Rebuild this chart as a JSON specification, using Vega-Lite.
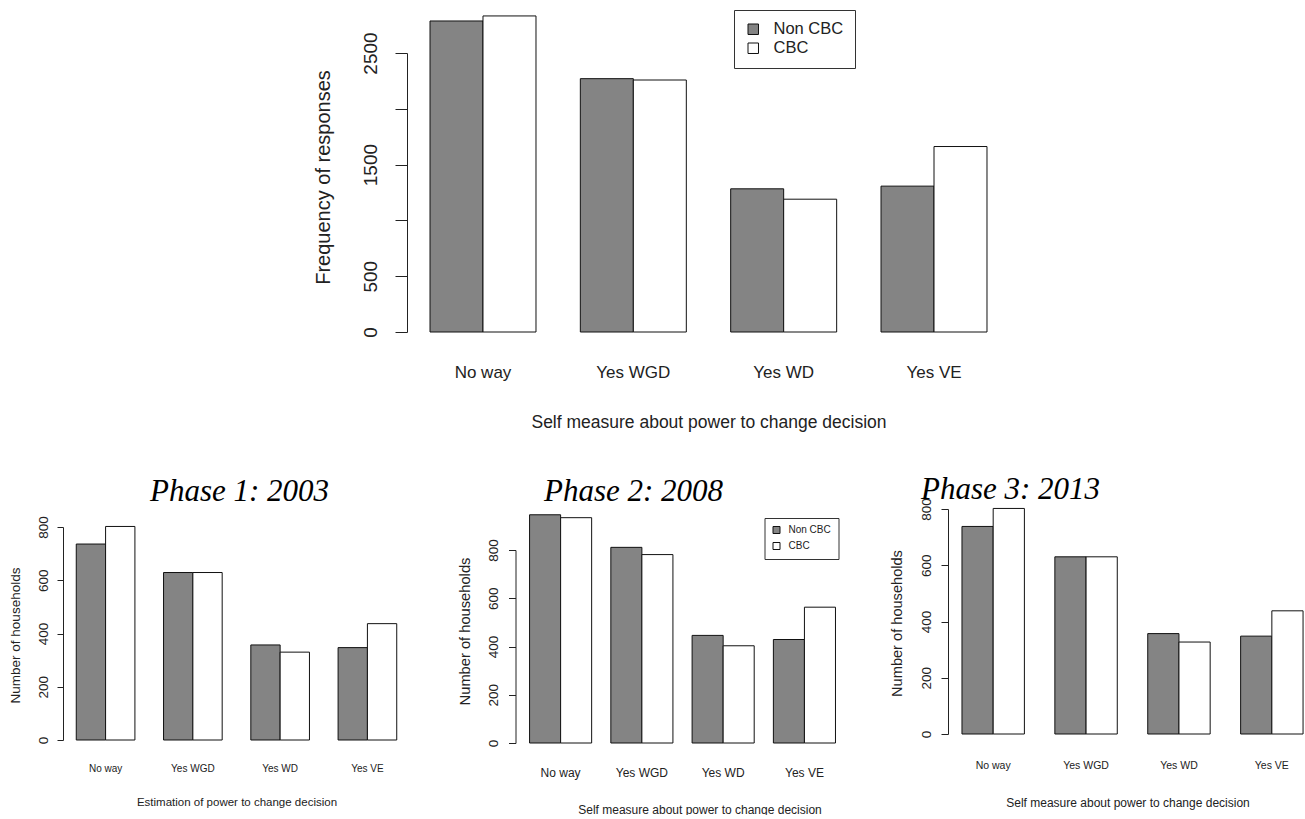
{
  "$schema": "https://vega.github.io/schema/vega-lite/v6.json",
  "background": "white",
  "padding": {"left": 8, "top": 9, "right": 0, "bottom": 0},
  "config": {
    "view": {"stroke": null},
    "font": "Liberation Sans",
    "axis": {
      "grid": false,
      "labelColor": "#222",
      "titleColor": "#222",
      "domainColor": "#222",
      "tickColor": "#222",
      "titleFontWeight": "normal",
      "labelFont": "Liberation Sans",
      "titleFont": "Liberation Sans",
      "domainWidth": 1,
      "tickWidth": 1
    },
    "legend": {"labelColor": "#222", "labelFont": "Liberation Sans"},
    "bar": {"stroke": "#111", "strokeWidth": 1}
  },
  "datasets": {
    "overall": [
      {"category": "No way", "group": "Non CBC", "value": 2787},
      {"category": "No way", "group": "CBC", "value": 2832},
      {"category": "Yes WGD", "group": "Non CBC", "value": 2270},
      {"category": "Yes WGD", "group": "CBC", "value": 2258},
      {"category": "Yes WD", "group": "Non CBC", "value": 1283},
      {"category": "Yes WD", "group": "CBC", "value": 1190},
      {"category": "Yes VE", "group": "Non CBC", "value": 1307},
      {"category": "Yes VE", "group": "CBC", "value": 1662}
    ],
    "phase1": [
      {"category": "No way", "group": "Non CBC", "value": 736},
      {"category": "No way", "group": "CBC", "value": 802},
      {"category": "Yes WGD", "group": "Non CBC", "value": 629},
      {"category": "Yes WGD", "group": "CBC", "value": 629},
      {"category": "Yes WD", "group": "Non CBC", "value": 357},
      {"category": "Yes WD", "group": "CBC", "value": 330},
      {"category": "Yes VE", "group": "Non CBC", "value": 347},
      {"category": "Yes VE", "group": "CBC", "value": 437}
    ],
    "phase2": [
      {"category": "No way", "group": "Non CBC", "value": 946},
      {"category": "No way", "group": "CBC", "value": 934},
      {"category": "Yes WGD", "group": "Non CBC", "value": 811},
      {"category": "Yes WGD", "group": "CBC", "value": 781},
      {"category": "Yes WD", "group": "Non CBC", "value": 446},
      {"category": "Yes WD", "group": "CBC", "value": 403},
      {"category": "Yes VE", "group": "Non CBC", "value": 429},
      {"category": "Yes VE", "group": "CBC", "value": 563}
    ],
    "phase3": [
      {"category": "No way", "group": "Non CBC", "value": 738},
      {"category": "No way", "group": "CBC", "value": 802},
      {"category": "Yes WGD", "group": "Non CBC", "value": 630},
      {"category": "Yes WGD", "group": "CBC", "value": 630},
      {"category": "Yes WD", "group": "Non CBC", "value": 357},
      {"category": "Yes WD", "group": "CBC", "value": 327},
      {"category": "Yes VE", "group": "Non CBC", "value": 348},
      {"category": "Yes VE", "group": "CBC", "value": 438}
    ]
  },
  "spacing": 42,
  "resolve": {
    "scale": {"x": "independent", "y": "independent", "xOffset": "independent", "fill": "independent"},
    "legend": {"fill": "independent"}
  },
  "vconcat": [
    {
      "spacing": 0,
      "resolve": {
        "scale": {"x": "independent", "y": "independent", "xOffset": "independent", "fill": "independent"},
        "legend": {"fill": "independent"}
      },
      "hconcat": [
        {
          "width": 249,
          "height": 279,
          "data": {"values": []},
          "mark": {"type": "point"}
        },
        {
          "width": 603,
          "height": 279,
          "data": {"name": "overall"},
          "mark": {"type": "bar"},
          "encoding": {
            "x": {
              "field": "category", "type": "nominal",
              "sort": ["No way", "Yes WGD", "Yes WD", "Yes VE"],
              "scale": {"paddingInner": 0.295, "paddingOuter": 0.153},
              "axis": {
                "title": "Self measure about power to change decision",
                "labelAngle": 0, "domain": false, "ticks": false,
                "labelPadding": 32, "labelFontSize": 17,
                "titleFontSize": 17.5, "titlePadding": 33
              }
            },
            "xOffset": {
              "field": "group", "type": "nominal",
              "sort": ["Non CBC", "CBC"],
              "scale": {"paddingInner": 0, "paddingOuter": 0}
            },
            "y": {
              "field": "value", "type": "quantitative",
              "scale": {"domain": [0, 2500], "nice": false},
              "axis": {
                "title": "Frequency of responses",
                "values": [0, 500, 1000, 1500, 2000, 2500],
                "format": "d",
                "labelExpr": "datum.value == 1000 || datum.value == 2000 ? '' : datum.label",
                "labelAngle": -90, "labelAlign": "center", "labelBaseline": "bottom",
                "labelFontSize": 19, "tickSize": 12, "labelPadding": 14.5,
                "titleFontSize": 20, "titleY": 124, "titlePadding": 28.5
              }
            },
            "fill": {
              "field": "group", "type": "nominal",
              "sort": ["Non CBC", "CBC"],
              "scale": {"domain": ["Non CBC", "CBC"], "range": ["#848484", "#ffffff"]},
              "legend": {
                "title": null, "orient": "none", "legendX": 327, "legendY": -43,
                "strokeColor": "#333", "padding": 11, "symbolType": "square",
                "symbolSize": 110, "symbolStrokeColor": "#111", "symbolStrokeWidth": 1,
                "labelFontSize": 16.5, "labelOffset": 12, "rowPadding": 2
              }
            }
          }
        }
      ]
    },
    {
      "spacing": 47.5,
      "columns": 3,
      "align": "none",
      "resolve": {
        "scale": {"x": "independent", "y": "independent", "xOffset": "independent", "fill": "independent"},
        "legend": {"fill": "independent"}
      },
      "concat": [
        {
          "title": {
            "text": "Phase 1: 2003", "font": "Liberation Serif", "fontStyle": "italic",
            "fontWeight": "normal", "fontSize": 31, "color": "#000",
            "frame": "group", "anchor": "middle", "dx": 3, "offset": 1.5
          },
          "width": 347,
          "height": 231,
          "data": {"name": "phase1"},
          "mark": {"type": "bar"},
          "encoding": {
            "x": {
              "field": "category", "type": "nominal",
              "sort": ["No way", "Yes WGD", "Yes WD", "Yes VE"],
              "scale": {"paddingInner": 0.328, "paddingOuter": 0.152},
              "axis": {
                "title": "Estimation of power to change decision",
                "labelAngle": 0, "domain": false, "ticks": false,
                "labelPadding": 23, "labelFontSize": 10,
                "titleFontSize": 11.5, "titlePadding": 23
              }
            },
            "xOffset": {
              "field": "group", "type": "nominal",
              "sort": ["Non CBC", "CBC"],
              "scale": {"paddingInner": 0, "paddingOuter": 0}
            },
            "y": {
              "field": "value", "type": "quantitative",
              "scale": {"domain": [0, 800], "nice": false, "range": [231, 18]},
              "axis": {
                "title": "Number of households",
                "values": [0, 200, 400, 600, 800], "format": "d",
                "labelAngle": -90, "labelAlign": "center", "labelBaseline": "bottom",
                "labelFontSize": 13.5, "tickSize": 6, "labelPadding": 7,
                "titleFontSize": 13.5, "titlePadding": 13.5, "titleY": 126
              }
            },
            "fill": {
              "field": "group", "type": "nominal",
              "scale": {"domain": ["Non CBC", "CBC"], "range": ["#848484", "#ffffff"]},
              "legend": null
            }
          }
        },
        {
          "title": {
            "text": "Phase 2: 2008", "font": "Liberation Serif", "fontStyle": "italic",
            "fontWeight": "normal", "fontSize": 31, "color": "#000",
            "frame": "group", "anchor": "middle", "dx": -45, "offset": 1.5
          },
          "width": 326,
          "height": 234,
          "data": {"name": "phase2"},
          "mark": {"type": "bar"},
          "encoding": {
            "x": {
              "field": "category", "type": "nominal",
              "sort": ["No way", "Yes WGD", "Yes WD", "Yes VE"],
              "scale": {"paddingInner": 0.236, "paddingOuter": 0.1236, "align": 0.7},
              "axis": {
                "title": "Self measure about power to change decision",
                "labelAngle": 0, "domain": false, "ticks": false,
                "labelPadding": 24, "labelFontSize": 12,
                "titleFontSize": 12, "titlePadding": 26, "titleX": 184
              }
            },
            "xOffset": {
              "field": "group", "type": "nominal",
              "sort": ["Non CBC", "CBC"],
              "scale": {"paddingInner": 0, "paddingOuter": 0}
            },
            "y": {
              "field": "value", "type": "quantitative",
              "scale": {"domain": [0, 800], "nice": false, "range": [234, 41]},
              "axis": {
                "title": "Number of households",
                "values": [0, 200, 400, 600, 800], "format": "d",
                "labelAngle": -90, "labelAlign": "center", "labelBaseline": "bottom",
                "labelFontSize": 13.6, "tickSize": 7, "labelPadding": 8,
                "titleFontSize": 14.7, "titlePadding": 14, "titleY": 122
              }
            },
            "fill": {
              "field": "group", "type": "nominal",
              "sort": ["Non CBC", "CBC"],
              "scale": {"domain": ["Non CBC", "CBC"], "range": ["#848484", "#ffffff"]},
              "legend": {
                "title": null, "orient": "none", "legendX": 249, "legendY": 9,
                "strokeColor": "#333", "padding": 7, "symbolType": "square",
                "symbolSize": 49, "symbolStrokeColor": "#111", "symbolStrokeWidth": 1,
                "labelFontSize": 10, "labelOffset": 7, "rowPadding": 4
              }
            }
          }
        },
        {
          "title": {
            "text": "Phase 3: 2013", "font": "Liberation Serif", "fontStyle": "italic",
            "fontWeight": "normal", "fontSize": 31, "color": "#000",
            "frame": "group", "anchor": "middle", "dx": -117, "offset": -8
          },
          "width": 359,
          "height": 225,
          "data": {"name": "phase3"},
          "mark": {"type": "bar"},
          "encoding": {
            "x": {
              "field": "category", "type": "nominal",
              "sort": ["No way", "Yes WGD", "Yes WD", "Yes VE"],
              "scale": {"paddingInner": 0.328, "paddingOuter": 0.0964, "align": 0.78},
              "axis": {
                "title": "Self measure about power to change decision",
                "labelAngle": 0, "domain": false, "ticks": false,
                "labelPadding": 26, "labelFontSize": 10.5,
                "titleFontSize": 12, "titlePadding": 26.5
              }
            },
            "xOffset": {
              "field": "group", "type": "nominal",
              "sort": ["Non CBC", "CBC"],
              "scale": {"paddingInner": 0, "paddingOuter": 0}
            },
            "y": {
              "field": "value", "type": "quantitative",
              "scale": {"domain": [0, 800], "nice": false, "range": [225, 0]},
              "axis": {
                "title": "Number of households",
                "values": [0, 200, 400, 600, 800], "format": "d",
                "labelAngle": -90, "labelAlign": "center", "labelBaseline": "bottom",
                "labelFontSize": 13.5, "tickSize": 7, "labelPadding": 8,
                "titleFontSize": 14.6, "titlePadding": 14.5, "titleY": 114
              }
            },
            "fill": {
              "field": "group", "type": "nominal",
              "scale": {"domain": ["Non CBC", "CBC"], "range": ["#848484", "#ffffff"]},
              "legend": null
            }
          }
        }
      ]
    }
  ]
}
